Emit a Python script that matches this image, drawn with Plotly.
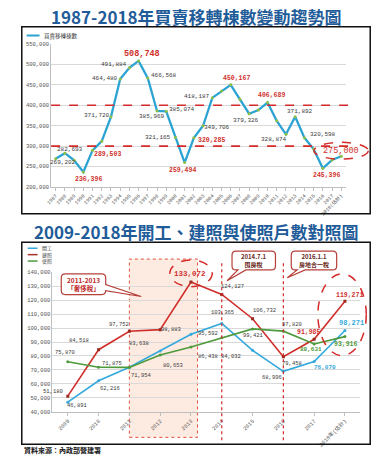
import plotly.graph_objects as go

W, H = 387, 464

# ---------------- data ----------------
years1 = [str(y) for y in range(1987, 2018)] + ["2018(估計)"]
transfers = [269202, 282693, 265000, 236396, 289503, 312000, 371720, 464480,
             491884, 508748, 466568, 385969, 385074, 321165, 259494, 320285,
             349706, 418187, 434888, 450167, 414641, 379326, 388298, 406689,
             361941, 328874, 371892, 320598, 292550, 245396, 266086, 275000]

years2 = ["2009", "2010", "2011", "2012", "2013", "2014", "2015", "2016", "2017", "2018年(估計)"]
starts = [46891, 62216, 71954, 83638, 95592, 103365, 84032, 68996, 76070, 98271]        # 開工
permits = [51180, 84518, 97752, 98883, 133072, 124127, 106732, 79458, 91985, 119271]    # 建照
use_permits = [75870, 71875, 71800, 80653, 86438, 93000, 99421, 97820, 88631, 93916]    # 使照

title1 = "1987-2018年買賣移轉棟數變動趨勢圖"
title2 = "2009-2018年開工、建照與使照戶數對照圖"
source = "資料來源：內政部營建署"

# ---------------- helpers ----------------
def px(x):
    return x / W

def py(y):
    return 1 - y / H

BLUE_T = "#1f5c99"
C_LINE1 = "#2ba3d3"
C_BLUE = "#33a9dd"
C_RED = "#d0302c"
C_GREEN = "#4f9a3d"
GRAY_TXT = "#404040"
MONO = "Liberation Mono, Noto Sans CJK TC"
CJK = "Noto Sans CJK TC"

fig = go.Figure()

fig.add_trace(go.Scatter(x=years1, y=transfers, mode="lines+markers", name="買賣移轉棟數",
                         line=dict(color=C_LINE1, width=2.3),
                         marker=dict(color="#8fbf45", size=3),
                         xaxis="x", yaxis="y", showlegend=False, hoverinfo="skip"))

fig.add_trace(go.Scatter(x=years2, y=starts, mode="lines+markers", name="開工",
                         line=dict(color=C_BLUE, width=1.6),
                         marker=dict(color=C_BLUE, size=3),
                         xaxis="x2", yaxis="y2", showlegend=False))
fig.add_trace(go.Scatter(x=years2, y=permits, mode="lines+markers", name="建照",
                         line=dict(color=C_RED, width=1.6),
                         marker=dict(color="#9c2a20", size=3, symbol="square"),
                         xaxis="x2", yaxis="y2", showlegend=False))
fig.add_trace(go.Scatter(x=years2, y=use_permits, mode="lines+markers", name="使照",
                         line=dict(color=C_GREEN, width=1.6),
                         marker=dict(color=C_GREEN, size=3),
                         xaxis="x2", yaxis="y2", showlegend=False))

ann = []
shapes = []

def lab(xa, ya, cats, vals, cat, dx, dy, color=GRAY_TXT, size=6, bold=False):
    i = cats.index(cat)
    v = vals[i]
    t = f"{v:,}"
    if bold:
        t = f"<b>{t}</b>"
    ann.append(dict(xref=xa, yref=ya, x=i, y=v, text=t, showarrow=False,
                    xanchor="center", yanchor="middle",
                    xshift=dx, yshift=dy, font=dict(family=MONO, size=size, color=color)))

# chart 1 labels
L1 = [("1987", 7, -4, GRAY_TXT, 6, False), ("1988", 5, 4, GRAY_TXT, 6, False),
      ("1990", 5, -7, C_RED, 6.5, True), ("1991", 15, -4, C_RED, 6.5, True),
      ("1993", -14, 1, GRAY_TXT, 6, False), ("1994", -15, 0, GRAY_TXT, 6, False),
      ("1995", -15, 3, GRAY_TXT, 6, False), ("1996", 3, 7, C_RED, 8.5, True),
      ("1997", 16, 3, GRAY_TXT, 6, False), ("1998", -5, -5, GRAY_TXT, 6, False),
      ("1999", 16, 2, GRAY_TXT, 6, False), ("2000", -17, 0, GRAY_TXT, 6, False),
      ("2001", -2, -8, C_RED, 6.5, True), ("2002", 18, -3, C_RED, 6.5, True),
      ("2003", 14, -2, GRAY_TXT, 6, False), ("2004", -15, 1, GRAY_TXT, 6, False),
      ("2006", 6, 6, C_RED, 6.5, True), ("2008", -3, -7, GRAY_TXT, 6, False),
      ("2010", 4, 7, C_RED, 6.5, True), ("2012", -12, -5, GRAY_TXT, 6, False),
      ("2013", 5, 5, GRAY_TXT, 6, False), ("2014", 19, 3, GRAY_TXT, 6, False),
      ("2016", 4, -7, C_RED, 6.5, True), ("2018(估計)", 0, 5, C_RED, 8.5, False)]
for c, dx, dy, col, s, b in L1:
    lab("x", "y", years1, transfers, c, dx, dy, col, s, b)

# chart 2 labels
for c, dx, dy, col, s, b in [("2009", -15, 5, GRAY_TXT, 5.5, False), ("2010", -20, 9, GRAY_TXT, 5.5, False),
                             ("2011", -10, 7, GRAY_TXT, 5.5, False), ("2012", 11, 0, GRAY_TXT, 5.5, False),
                             ("2013", -1, 8, C_RED, 7.5, True), ("2014", 11, 8, GRAY_TXT, 5.5, False),
                             ("2015", 12, 8, GRAY_TXT, 5.5, False), ("2016", 9, -7, GRAY_TXT, 5.5, False),
                             ("2017", -5, 7, C_RED, 6.5, True), ("2018年(估計)", 5, 6, C_RED, 6.5, True)]:
    lab("x2", "y2", years2, permits, c, dx, dy, col, s, b)
for c, dx, dy, col, s, b in [("2009", 10, -3, GRAY_TXT, 5.5, False), ("2010", 11, -8, GRAY_TXT, 5.5, False),
                             ("2011", 12, -8, GRAY_TXT, 5.5, False), ("2012", -21, 7, GRAY_TXT, 5.5, False),
                             ("2013", 17, 1, GRAY_TXT, 5.5, False), ("2014", 1, 11, GRAY_TXT, 5.5, False),
                             ("2015", -22, -6, GRAY_TXT, 5.5, False), ("2016", -11, -6, GRAY_TXT, 5.5, False),
                             ("2017", 11, -6, C_BLUE, 6, True), ("2018年(估計)", 7, 8, C_BLUE, 7, True)]:
    lab("x2", "y2", years2, starts, c, dx, dy, col, s, b)
for c, dx, dy, col, s, b in [("2009", -3, 9, GRAY_TXT, 5.5, False), ("2010", 13, 4, GRAY_TXT, 5.5, False),
                             ("2012", 13, -10, GRAY_TXT, 5.5, False), ("2013", 17, -9, GRAY_TXT, 5.5, False),
                             ("2015", 1, -7, GRAY_TXT, 5.5, False), ("2016", 9, 7, GRAY_TXT, 5.5, False),
                             ("2017", -3, -6, C_GREEN, 6, True), ("2018年(估計)", 1, -8, C_GREEN, 6.5, True)]:
    lab("x2", "y2", years2, use_permits, c, dx, dy, col, s, b)

def pann(x, y, text, size, color, family=CJK, xanchor="center"):
    ann.append(dict(xref="paper", yref="paper", x=px(x), y=py(y), text=text, showarrow=False,
                    xanchor=xanchor, yanchor="middle", font=dict(family=family, size=size, color=color)))

# titles & source
pann(193.5, 13.5, f"<b>{title1}</b>", 17, BLUE_T)
pann(193.5, 232, f"<b>{title2}</b>", 17, BLUE_T)
pann(17, 454, f"<b>{source}</b>", 7, "#111111", xanchor="left")

# legends (manual)
shapes.append(dict(type="line", xref="paper", yref="paper", x0=px(22), x1=px(35), y0=py(33), y1=py(33),
                   line=dict(color=C_LINE1, width=2)))
pann(37, 33, "買賣移轉棟數", 5.5, GRAY_TXT, xanchor="left")
for i, (nm, col) in enumerate([("開工", C_BLUE), ("建照", "#a8302a"), ("使照", C_GREEN)]):
    yy = 249 + i * 6.5
    shapes.append(dict(type="line", xref="paper", yref="paper", x0=px(23), x1=px(33), y0=py(yy), y1=py(yy),
                       line=dict(color=col, width=1.5)))
    pann(35, yy, nm, 5, GRAY_TXT, xanchor="left")

# frames
shapes.append(dict(type="rect", xref="paper", yref="paper", x0=px(17), x1=px(370), y0=py(214), y1=py(24),
                   line=dict(color="#111111", width=1.5)))
shapes.append(dict(type="rect", xref="paper", yref="paper", x0=px(17), x1=px(370), y0=py(448), y1=py(243),
                   line=dict(color="#111111", width=1.5)))

# chart1 reference dashed lines
for lv in (300000, 400000):
    shapes.append(dict(type="line", xref="paper", yref="y", x0=px(46.7), x1=px(351), y0=lv, y1=lv,
                       line=dict(color="#d42a2a", width=1.6, dash="dash")))
# ellipse around 2018 estimate
shapes.append(dict(type="circle", xref="paper", yref="paper", x0=px(313), x1=px(368), y0=py(158.5), y1=py(141.5),
                   line=dict(color="#d42a2a", width=1.5, dash="dash")))

# chart2 shaded period box
shapes.append(dict(type="rect", xref="paper", yref="paper", x0=px(126), x1=px(195), y0=py(441), y1=py(260),
                   fillcolor="rgba(251,222,206,0.6)", line=dict(color="#e0503a", width=1, dash="dot"),
                   layer="below"))
# vertical policy lines
for cat in ("2014", "2016"):
    idx = years2.index(cat)
    shapes.append(dict(type="line", xref="x2", yref="paper", x0=idx, x1=idx, y0=py(444), y1=py(264),
                       line=dict(color="#d42a2a", width=1.2, dash="dot")))
# ellipses in chart2
shapes.append(dict(type="circle", xref="paper", yref="paper", x0=px(167), x1=px(210), y0=py(288), y1=py(261),
                   line=dict(color="#d42a2a", width=1.5, dash="dash")))
shapes.append(dict(type="circle", xref="paper", yref="paper", x0=px(317), x1=px(366), y0=py(358), y1=py(275),
                   line=dict(color="#d42a2a", width=1.5, dash="dash")))

def P(x, y):
    return f"{px(x):.5f},{py(y):.5f}"

def bubble_right(x0, y0, x1, y1, r, b1, b2, tip):
    return (f"M{P(x0 + r, y0)} L{P(x1 - r, y0)} Q{P(x1, y0)} {P(x1, y0 + r)} L{P(x1, b1)} L{P(*tip)} "
            f"L{P(x1, b2)} L{P(x1, y1 - r)} Q{P(x1, y1)} {P(x1 - r, y1)} L{P(x0 + r, y1)} "
            f"Q{P(x0, y1)} {P(x0, y1 - r)} L{P(x0, y0 + r)} Q{P(x0, y0)} {P(x0 + r, y0)} Z")

def bubble_bottom(x0, y0, x1, y1, r, b1, b2, tip):
    return (f"M{P(x0 + r, y0)} L{P(x1 - r, y0)} Q{P(x1, y0)} {P(x1, y0 + r)} L{P(x1, y1 - r)} "
            f"Q{P(x1, y1)} {P(x1 - r, y1)} L{P(b2, y1)} L{P(*tip)} L{P(b1, y1)} L{P(x0 + r, y1)} "
            f"Q{P(x0, y1)} {P(x0, y1 - r)} L{P(x0, y0 + r)} Q{P(x0, y0)} {P(x0 + r, y0)} Z")

BOX_LINE = dict(color="#b5403a", width=1.2)
shapes.append(dict(type="path", xref="paper", yref="paper",
                   path=bubble_right(57, 275, 102, 296, 4, 286, 292, (138, 298)),
                   fillcolor="white", line=BOX_LINE))
shapes.append(dict(type="path", xref="paper", yref="paper",
                   path=bubble_bottom(230, 252, 274, 271, 4, 236, 244, (225, 282)),
                   fillcolor="white", line=BOX_LINE))
shapes.append(dict(type="path", xref="paper", yref="paper",
                   path=bubble_bottom(290, 252, 336, 271, 4, 296, 304, (286, 279)),
                   fillcolor="white", line=BOX_LINE))

pann(79.5, 285.5, "<b>2011-2013<br>「奢侈稅」</b>", 6.5, "#c0282a")
pann(252, 261.5, "<b>2014.7.1<br>囤房稅</b>", 6, "#6b2a22")
pann(313, 261.5, "<b>2016.1.1<br>房地合一稅</b>", 6, "#6b2a22")

axis_common = dict(showline=True, linecolor="#bfbfbf", linewidth=1, ticks="outside", tickcolor="#bfbfbf",
                   ticklen=3, showgrid=False, zeroline=False, fixedrange=True)

fig.update_layout(
    width=W, height=H, autosize=False,
    margin=dict(l=0, r=0, t=0, b=0),
    paper_bgcolor="white", plot_bgcolor="rgba(0,0,0,0)",
    showlegend=False,
    xaxis=dict(domain=[px(46.7), px(345.3)], type="category", range=[-0.5, len(years1) - 0.5],
               tickangle=-45, anchor="y", tickfont=dict(family=MONO, size=5, color="#555555"), **axis_common),
    yaxis=dict(domain=[py(186.7), py(41.7)], range=[200000, 550000], dtick=50000, tickformat=",d",
               showline=True, linecolor="#bfbfbf", ticks="", showgrid=True, gridcolor="#d9d9d9",
               gridwidth=1, zeroline=False, anchor="x",
               tickfont=dict(family=MONO, size=5.5, color="#555555"), fixedrange=True),
    xaxis2=dict(domain=[px(48), px(360)], type="category", range=[-0.5, len(years2) - 0.5],
                tickangle=-45, anchor="y2", tickfont=dict(family=MONO, size=5.5, color="#555555"), **axis_common),
    yaxis2=dict(domain=[py(415), py(273.5)], range=[40000, 140000], dtick=10000, tickformat=",d",
                showline=True, linecolor="#bfbfbf", ticks="", showgrid=True, gridcolor="#d9d9d9",
                gridwidth=1, zeroline=False, anchor="x2",
                tickfont=dict(family=MONO, size=5.5, color="#555555"), fixedrange=True),
    annotations=ann,
    shapes=shapes,
)

fig.write_html("out.html", config={"displayModeBar": False},
               post_script="document.body.style.margin='0px';document.body.style.overflow='hidden';")
